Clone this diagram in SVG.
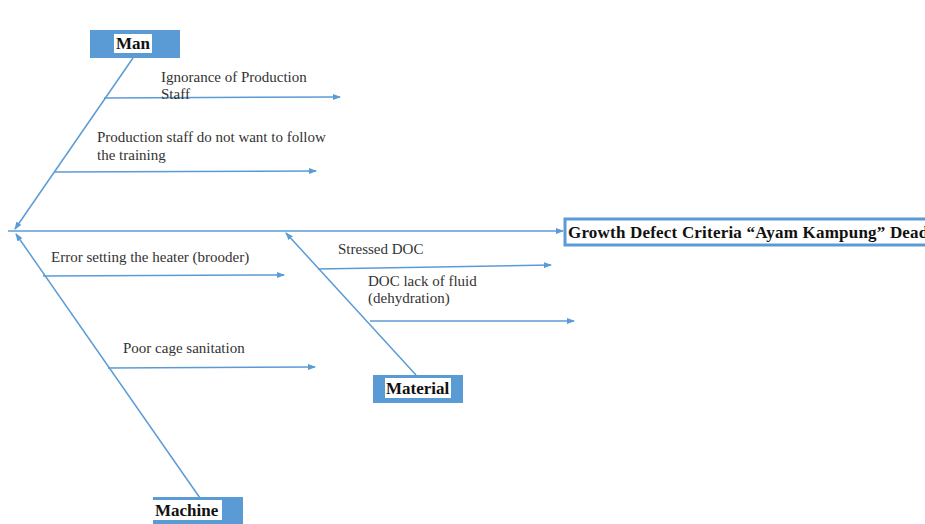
<svg xmlns="http://www.w3.org/2000/svg" width="925" height="524" viewBox="0 0 925 524">
<defs>
<marker id="ah" markerWidth="8" markerHeight="6" refX="7" refY="3" orient="auto" markerUnits="userSpaceOnUse">
<path d="M0,0 L8,3 L0,6 Z" fill="#5B9BD5"/>
</marker>
<style>
.ln{stroke:#5B9BD5;stroke-width:1.5;fill:none}
.lbl{font-family:"Liberation Serif","Times New Roman",serif;font-size:15px;fill:#333}
.cat{font-family:"Liberation Serif","Times New Roman",serif;font-size:17px;font-weight:bold;fill:#111}
.box{fill:#5B9BD5}
.hl{fill:#fff}
</style>
</defs>
<rect width="925" height="524" fill="#fff"/>
<g id="connectors">
<line class="ln" x1="8" y1="231" x2="563" y2="231" marker-end="url(#ah)"/>
<line class="ln" x1="133" y1="58" x2="15" y2="229" marker-end="url(#ah)"/>
<line class="ln" x1="200" y1="498" x2="16" y2="234" marker-end="url(#ah)"/>
<line class="ln" x1="416" y1="375" x2="286" y2="233" marker-end="url(#ah)"/>
<line class="ln" x1="104" y1="98" x2="340" y2="97" marker-end="url(#ah)"/>
<line class="ln" x1="55" y1="172" x2="316" y2="171" marker-end="url(#ah)"/>
<line class="ln" x1="43" y1="276" x2="284" y2="275" marker-end="url(#ah)"/>
<line class="ln" x1="108" y1="368" x2="315" y2="367" marker-end="url(#ah)"/>
<line class="ln" x1="318" y1="269" x2="551" y2="265" marker-end="url(#ah)"/>
<line class="ln" x1="370" y1="321" x2="574" y2="321" marker-end="url(#ah)"/>
</g>
<g id="labels">
<text class="lbl" x="161" y="82">Ignorance of Production</text>
<text class="lbl" x="161" y="99">Staff</text>
<text class="lbl" x="97" y="142">Production staff do not want to follow</text>
<text class="lbl" x="97" y="160">the training</text>
<text class="lbl" x="51" y="262">Error setting the heater (brooder)</text>
<text class="lbl" x="123" y="353">Poor cage sanitation</text>
<text class="lbl" x="338" y="254">Stressed DOC</text>
<text class="lbl" x="368" y="286">DOC lack of fluid</text>
<text class="lbl" x="368" y="303">(dehydration)</text>
</g>
<g id="man">
<rect class="box" x="90" y="30" width="90" height="28"/>
<rect class="hl" x="114" y="34" width="38" height="19"/>
<text class="cat" x="116" y="49">Man</text>
</g>
<g id="material">
<rect class="box" x="373" y="375" width="90" height="28"/>
<rect class="hl" x="385" y="378" width="66" height="20"/>
<text class="cat" x="386" y="394">Material</text>
</g>
<g id="machine">
<rect class="box" x="153" y="497" width="90" height="30"/>
<rect class="hl" x="153" y="500" width="69" height="20"/>
<text class="cat" x="155" y="516">Machine</text>
</g>
<g id="effect">
<rect x="565" y="219" width="370" height="26" fill="#fff" stroke="#5B9BD5" stroke-width="3"/>
<text class="cat" x="568" y="238" letter-spacing="0.2">Growth Defect Criteria “Ayam Kampung” Dead</text>
</g>
</svg>
